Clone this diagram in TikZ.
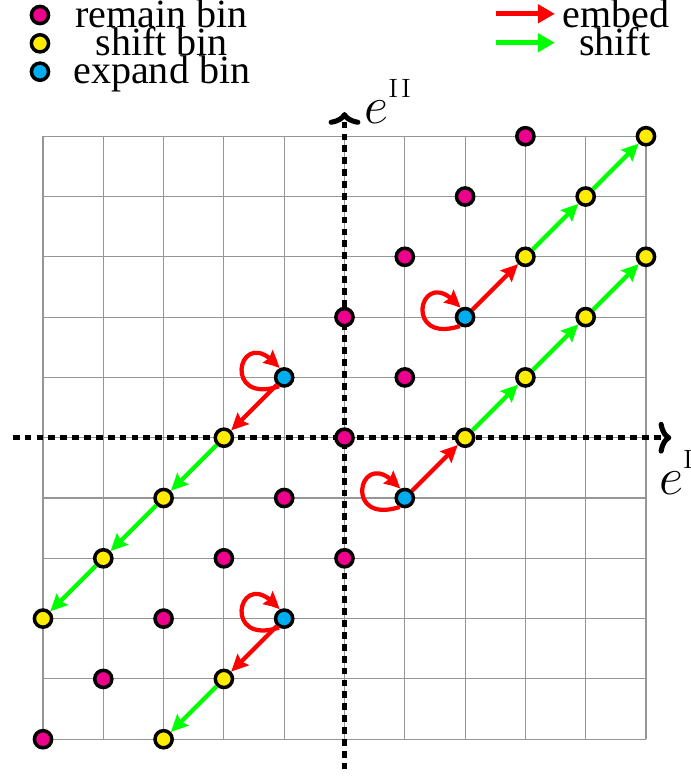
\documentclass[tikz,border=0pt]{standalone}
\usepackage{fontspec}
\newfontfamily\legfont{Liberation Serif}
\usetikzlibrary{arrows.meta,bending}
\definecolor{binmag}{RGB}{236,0,140}
\definecolor{binyel}{RGB}{255,236,0}
\definecolor{bincyan}{RGB}{0,174,239}
\definecolor{gridgray}{RGB}{150,150,150}
\begin{document}
\begin{tikzpicture}[
  bin/.style={circle, draw=black, line width=1.65pt, minimum size=0.285cm, inner sep=0pt},
  remainbin/.style={bin, fill=binmag},
  shiftbin/.style={bin, fill=binyel},
  expandbin/.style={bin, fill=bincyan},
  embedarrow/.style={draw=red, line width=2pt, -{Stealth[length=8pt,width=7.5pt,inset=1.2pt]}},
  shiftarrow/.style={draw=green, line width=2pt, -{Stealth[length=8pt,width=7.5pt,inset=1.2pt]}},
  embedloop/.style={draw=red, line width=2pt, -{Stealth[length=8pt,width=7.5pt,inset=1.2pt,bend]}},
  legembed/.style={draw=red, line width=2.3pt, -{Triangle[length=8pt,width=8.5pt]}},
  legshift/.style={draw=green, line width=2.3pt, -{Triangle[length=8pt,width=8.5pt]}},
  axisline/.style={line width=2.4pt, dash pattern=on 3.2pt off 2.4pt, -{Computer Modern Rightarrow[length=6pt,width=15pt]}},
  legtext/.style={font=\legfont\fontsize{18.9}{22}\selectfont, anchor=base, inner sep=0pt},
  axlabel/.style={anchor=base west, inner sep=0pt, font=\fontsize{24}{28}\selectfont}
]
\useasboundingbox (-5.713,-5.610) rectangle (5.746,7.259);
% grid
\draw[gridgray, line width=0.5pt] (-5,-5) grid (5,5);
% axes
\coordinate (xl) at (-5.5,0);
\coordinate (xr) at (5.42,0);
\coordinate (yb) at (0,-5.5);
\coordinate (yt) at (0,5.40);
\draw[axisline] (xl) -- (xr);
\draw[axisline] (yb) -- (yt);
\node[axlabel] (eI) at (5.215,-0.94) {$e$\raisebox{12pt}{\fontsize{12.5}{12.5}\selectfont I}};
\node[axlabel] (eII) at (0.33,5.215) {$e$\raisebox{12pt}{\fontsize{12.5}{12.5}\selectfont I\kern1.5pt I}};
% remain bins
\node[remainbin] (r1) at (3,5) {};
\node[remainbin] (r2) at (2,4) {};
\node[remainbin] (r3) at (1,3) {};
\node[remainbin] (r4) at (0,2) {};
\node[remainbin] (r5) at (1,1) {};
\node[remainbin] (r6) at (0,0) {};
\node[remainbin] (r7) at (-1,-1) {};
\node[remainbin] (r8) at (0,-2) {};
\node[remainbin] (r9) at (-2,-2) {};
\node[remainbin] (r10) at (-3,-3) {};
\node[remainbin] (r11) at (-4,-4) {};
\node[remainbin] (r12) at (-5,-5) {};
% shift bins
\node[shiftbin] (s1) at (5,5) {};
\node[shiftbin] (s2) at (4,4) {};
\node[shiftbin] (s3) at (3,3) {};
\node[shiftbin] (s4) at (5,3) {};
\node[shiftbin] (s5) at (4,2) {};
\node[shiftbin] (s6) at (3,1) {};
\node[shiftbin] (s7) at (2,0) {};
\node[shiftbin] (s8) at (-2,0) {};
\node[shiftbin] (s9) at (-3,-1) {};
\node[shiftbin] (s10) at (-4,-2) {};
\node[shiftbin] (s11) at (-5,-3) {};
\node[shiftbin] (s12) at (-2,-4) {};
\node[shiftbin] (s13) at (-3,-5) {};
% expand bins
\node[expandbin] (e1) at (2,2) {};
\node[expandbin] (e2) at (-1,1) {};
\node[expandbin] (e3) at (1,-1) {};
\node[expandbin] (e4) at (-1,-3) {};
% embed arrows
\draw[embedarrow] (e1) -- (s3);
\draw[embedarrow] (e3) -- (s7);
\draw[embedarrow] (e2) -- (s8);
\draw[embedarrow] (e4) -- (s12);
% shift arrows
\draw[shiftarrow] (s3) -- (s2);
\draw[shiftarrow] (s2) -- (s1);
\draw[shiftarrow] (s7) -- (s6);
\draw[shiftarrow] (s6) -- (s5);
\draw[shiftarrow] (s5) -- (s4);
\draw[shiftarrow] (s8) -- (s9);
\draw[shiftarrow] (s9) -- (s10);
\draw[shiftarrow] (s10) -- (s11);
\draw[shiftarrow] (s12) -- (s13);
% self loops
\foreach \n in {e1,e2,e3,e4}{
  \draw[embedloop] (\n.240) .. controls +(198:1.05) and +(128:1.05) .. (\n.118);
}
% legend left
\node[remainbin] (lg1) at (-5.05,7.01) {};
\node[shiftbin] (lg2) at (-5.05,6.54) {};
\node[expandbin] (lg3) at (-5.05,6.07) {};
\node[legtext] (lt1) at (-3.03,6.80) {remain bin};
\node[legtext] (lt2) at (-3.03,6.34) {shift bin};
\node[legtext] (lt3) at (-3.03,5.88) {expand bin};
% legend right
\coordinate (la1) at (2.51,7.03);
\coordinate (la2) at (3.49,7.03);
\coordinate (lb1) at (2.51,6.55);
\coordinate (lb2) at (3.49,6.55);
\draw[legembed] (la1) -- (la2);
\draw[legshift] (lb1) -- (lb2);
\node[legtext] (lr1) at (4.50,6.80) {embed};
\node[legtext] (lr2) at (4.48,6.34) {shift};
\end{tikzpicture}
\end{document}
